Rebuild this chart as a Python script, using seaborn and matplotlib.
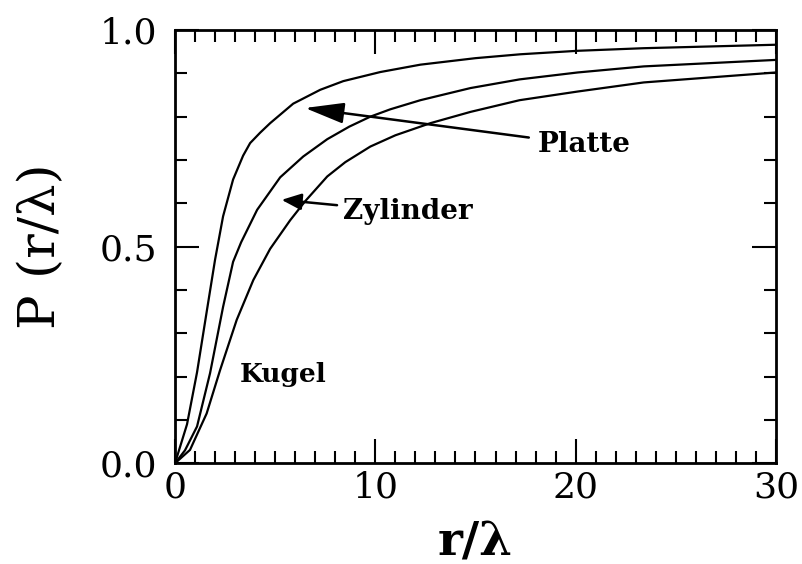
import numpy as np
import pandas as pd
import matplotlib
matplotlib.use("Agg")
import matplotlib.pyplot as plt
from matplotlib.ticker import MultipleLocator, FixedLocator, FixedFormatter
import seaborn as sns

# Cumulative distance distribution P(r/λ) for three geometries
r_platte = [0, 0.6, 1.1, 1.6, 2.0, 2.4, 2.9, 3.4, 3.75, 4.25, 4.75, 5.9, 7.25,
            8.4, 10.25, 12.25, 15.0, 17.25, 20.1, 23.4, 30]
p_platte = [0, 0.09, 0.21, 0.355, 0.47, 0.57, 0.655, 0.71, 0.739, 0.763, 0.785,
            0.830, 0.862, 0.882, 0.903, 0.920, 0.935, 0.944, 0.952, 0.958, 0.966]

r_zylinder = [0, 0.5, 1.1, 1.75, 2.4, 2.9, 3.3, 4.1, 5.25, 6.4, 7.6, 8.7,
              9.75, 10.75, 12.25, 14.75, 17.2, 20.1, 23.4, 30]
p_zylinder = [0, 0.03, 0.085, 0.208, 0.361, 0.465, 0.51, 0.585, 0.66, 0.708,
              0.748, 0.777, 0.80, 0.817, 0.838, 0.866, 0.886, 0.902, 0.916, 0.931]

r_kugel = [0, 0.75, 1.58, 2.25, 3.08, 3.91, 4.75, 5.75, 6.5, 7.6, 8.5, 9.75,
           11.0, 12.75, 14.75, 17.2, 20.1, 23.4, 30]
p_kugel = [0, 0.031, 0.115, 0.215, 0.331, 0.423, 0.495, 0.561, 0.605, 0.662,
           0.695, 0.731, 0.757, 0.785, 0.811, 0.838, 0.858, 0.879, 0.902]

x_ticks = [0, 10, 20, 30]
x_ticklabels = ["0", "10", "20", "30"]
y_ticks = [0.0, 0.5, 1.0]
y_ticklabels = ["0.0", "0.5", "1.0"]

df = pd.concat([
    pd.DataFrame({"r": r_platte, "P": p_platte, "form": "Platte"}),
    pd.DataFrame({"r": r_zylinder, "P": p_zylinder, "form": "Zylinder"}),
    pd.DataFrame({"r": r_kugel, "P": p_kugel, "form": "Kugel"}),
])

sns.set_theme(style="ticks")
plt.rcParams["font.family"] = ["DejaVu Serif"]
plt.rcParams["text.color"] = "black"
plt.rcParams["axes.labelcolor"] = "black"
plt.rcParams["xtick.color"] = "black"
plt.rcParams["ytick.color"] = "black"
plt.rcParams["lines.solid_joinstyle"] = "round"

fig = plt.figure(figsize=(8.03, 5.64), dpi=100)
ax = fig.add_axes([175 / 803, 1 - 463.3 / 564, 601 / 803, 433.3 / 564])

sns.lineplot(data=df, x="r", y="P", hue="form", units="form", estimator=None,
             palette=["black", "black", "black"], linewidth=1.6, legend=False,
             sort=False, ax=ax)

ax.set_xlim(0, 30)
ax.set_ylim(0, 1.0)
ax.xaxis.set_major_locator(FixedLocator(x_ticks))
ax.xaxis.set_major_formatter(FixedFormatter(x_ticklabels))
ax.yaxis.set_major_locator(FixedLocator(y_ticks))
ax.yaxis.set_major_formatter(FixedFormatter(y_ticklabels))
ax.xaxis.set_minor_locator(MultipleLocator(1))
ax.yaxis.set_minor_locator(MultipleLocator(0.1))

for side in ["left", "right", "top", "bottom"]:
    ax.spines[side].set_visible(True)
    ax.spines[side].set_linewidth(2.0)
    ax.spines[side].set_color("black")

ax.tick_params(which="both", direction="in", top=True, right=True,
               color="black", width=1.5, labelcolor="black")
ax.tick_params(which="major", length=17, labelsize=26)
ax.tick_params(which="minor", length=8.5)
ax.tick_params(axis="x", which="major", pad=5)
ax.tick_params(axis="y", which="major", pad=13)

ax.set_xlabel("r/λ", fontsize=34, fontweight="bold", labelpad=11)
ax.set_ylabel("P (r/λ)", fontsize=37, labelpad=24)
ax.set_facecolor("white")
fig.patch.set_facecolor("white")

# Labels with arrows pointing to the curves
ax.annotate("Platte", xy=(6.49, 0.820), xytext=(18.1, 0.735),
            fontsize=20, fontweight="bold", va="center", ha="left",
            arrowprops=dict(arrowstyle="-|>,head_length=1.2,head_width=0.32",
                            mutation_scale=20, lw=1.8, color="black",
                            shrinkA=4, shrinkB=0))
ax.annotate("Zylinder", xy=(5.32, 0.608), xytext=(8.39, 0.58),
            fontsize=20, fontweight="bold", va="center", ha="left",
            arrowprops=dict(arrowstyle="-|>,head_length=0.6,head_width=0.25",
                            mutation_scale=20, lw=1.8, color="black",
                            shrinkA=2, shrinkB=0))
ax.text(5.39, 0.204, "Kugel", fontsize=19, fontweight="bold",
        va="center", ha="center")

fig.savefig("out.png", dpi=100, facecolor="white")
